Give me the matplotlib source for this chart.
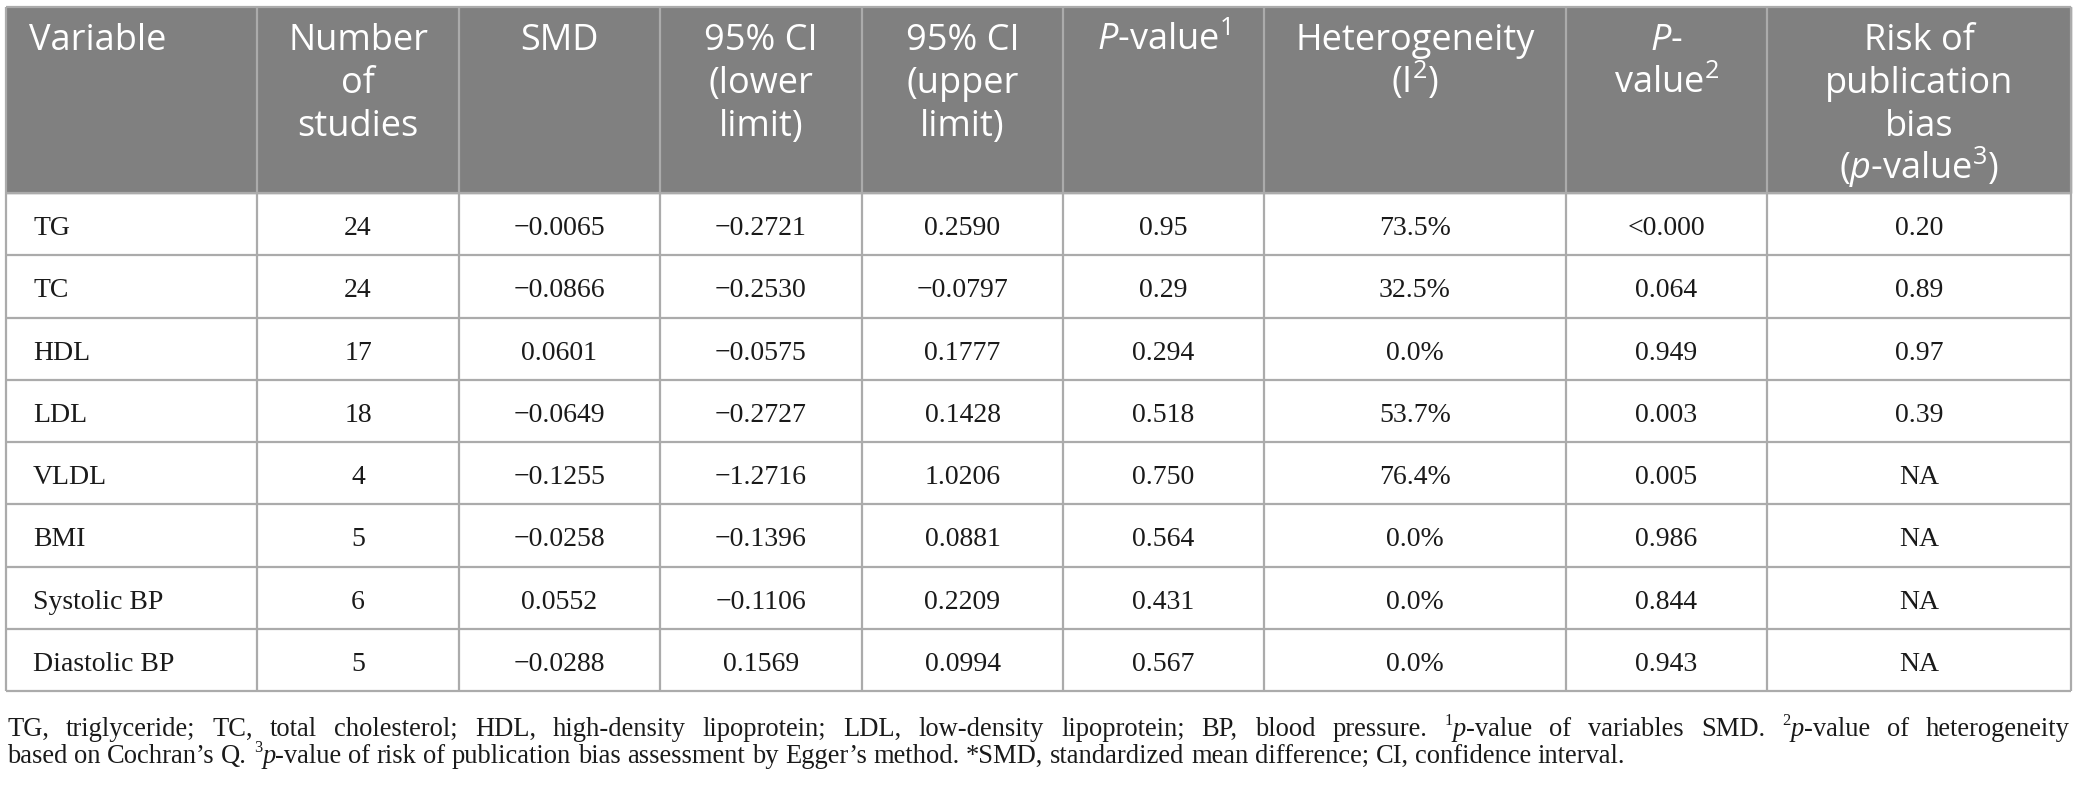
import re
import matplotlib
matplotlib.use("Agg")
import matplotlib.pyplot as plt
from matplotlib.patches import Rectangle

plt.rcParams["mathtext.fontset"] = "custom"
plt.rcParams["mathtext.rm"] = "Open Sans"
plt.rcParams["mathtext.cal"] = "Open Sans:italic"
plt.rcParams["mathtext.sf"] = "Open Sans"

# table data
variables = ["TG", "TC", "HDL", "LDL", "VLDL", "BMI", "Systolic BP", "Diastolic BP"]
n_studies = [24, 24, 17, 18, 4, 5, 6, 5]
smd = [-0.0065, -0.0866, 0.0601, -0.0649, -0.1255, -0.0258, 0.0552, -0.0288]
ci_lower = [-0.2721, -0.2530, -0.0575, -0.2727, -1.2716, -0.1396, -0.1106, 0.1569]
ci_upper = [0.2590, -0.0797, 0.1777, 0.1428, 1.0206, 0.0881, 0.2209, 0.0994]
p_smd = ["0.95", "0.29", "0.294", "0.518", "0.750", "0.564", "0.431", "0.567"]
i2 = [73.5, 32.5, 0.0, 53.7, 76.4, 0.0, 0.0, 0.0]
p_het = ["<0.000", "0.064", "0.949", "0.003", "0.005", "0.986", "0.844", "0.943"]
p_bias = ["0.20", "0.89", "0.97", "0.39", "NA", "NA", "NA", "NA"]

headers = [
    ["Variable"],
    ["Number", "of", "studies"],
    ["SMD"],
    ["95% CI", "(lower", "limit)"],
    ["95% CI", "(upper", "limit)"],
    [r"$\mathcal{P}$-value$^{\mathsf{1}}$"],
    ["Heterogeneity", r"(I$^{\mathsf{2}}$)"],
    [r"$\mathcal{P}$-", r"value$^{\mathsf{2}}$"],
    ["Risk of", "publication", "bias", r"($\mathcal{p}$-value$^{\mathsf{3}}$)"],
]

# {n} = superscript, [x] = italic
footnote_1 = ("TG, triglyceride; TC, total cholesterol; HDL, high-density lipoprotein; "
              "LDL, low-density lipoprotein; BP, blood pressure. "
              "{1}[p]-value of variables SMD. {2}[p]-value of heterogeneity")
footnote_2 = ("based on Cochran\u2019s Q. {3}[p]-value of risk of publication bias assessment by "
              "Egger\u2019s method. *SMD, standardized mean difference; CI, confidence interval.")


def fmt(v):
    return f"{v:.4f}".replace("-", "\u2212")


rows = []
for k in range(len(variables)):
    rows.append([variables[k], str(n_studies[k]), fmt(smd[k]), fmt(ci_lower[k]),
                 fmt(ci_upper[k]), p_smd[k], f"{i2[k]:.1f}%", p_het[k], p_bias[k]])

# layout (pixels)
W, H = 2076, 785
col_edges = [6, 257, 459, 660, 862, 1063, 1264, 1566, 1767, 2071]
top, head_bottom, table_bottom = 7, 193, 691
row_h = (table_bottom - head_bottom) / len(rows)
grid_color = "#ababab"
head_color = "#808080"
text_color = "#1a1a1a"
serif = "Liberation Serif"

fig = plt.figure(figsize=(W / 100, H / 100), dpi=100)
ax = fig.add_axes([0, 0, 1, 1])
ax.set_xlim(0, W)
ax.set_ylim(H, 0)
ax.axis("off")
renderer = fig.canvas.get_renderer()

ax.add_patch(Rectangle((col_edges[0], top), col_edges[-1] - col_edges[0],
                       head_bottom - top, color=head_color, zorder=1))

# grid lines
ys = [top, head_bottom] + [head_bottom + row_h * (i + 1) for i in range(len(rows))]
ax.hlines(ys, col_edges[0], col_edges[-1], color=grid_color, lw=1.6, zorder=2)
ax.vlines(col_edges, top, table_bottom, color=grid_color, lw=1.6, zorder=2)

# header
for j, lines in enumerate(headers):
    for i, line in enumerate(lines):
        y = 50 + 43 * i
        if j == 0:
            ax.text(col_edges[0] + 23, y, line, color="white", fontsize=26,
                    family="Open Sans", ha="left", va="baseline", zorder=3)
        else:
            xc = (col_edges[j] + col_edges[j + 1]) / 2
            ax.text(xc, y, line, color="white", fontsize=26,
                    family="Open Sans", ha="center", va="baseline", zorder=3)

# body
for i, row in enumerate(rows):
    yb = head_bottom + row_h * (i + 0.5) + 11
    for j, val in enumerate(row):
        if j == 0:
            ax.text(col_edges[0] + 27, yb, val, color=text_color, fontsize=20,
                    family=serif, ha="left", va="baseline", zorder=3)
        else:
            xc = (col_edges[j] + col_edges[j + 1]) / 2
            ax.text(xc, yb, val, color=text_color, fontsize=20,
                    family=serif, ha="center", va="baseline", zorder=3)


# footnote, drawn word by word
def make_word(word, y, size):
    pieces = []
    x = 0.0
    for m in re.finditer(r"\{(\d)\}|\[(\w)\]|([^{\[]+)", word):
        if m.group(1):
            t = ax.text(0, y - size * 100 / 72 * 0.4, m.group(1), fontsize=size * 0.62,
                        family=serif, color=text_color, ha="left", va="baseline")
        elif m.group(2):
            t = ax.text(0, y, m.group(2), fontsize=size, style="italic",
                        family=serif, color=text_color, ha="left", va="baseline")
        else:
            t = ax.text(0, y, m.group(3), fontsize=size,
                        family=serif, color=text_color, ha="left", va="baseline")
        pieces.append((t, x))
        x += t.get_window_extent(renderer).width
    return pieces, x


def draw_line(text, y, size, left, right=None):
    words = [make_word(w, y, size) for w in text.split(" ")]
    total = sum(w for _, w in words)
    if right is None:
        a = ax.text(0, 0, "n n", fontsize=size, family=serif)
        b = ax.text(0, 0, "nn", fontsize=size, family=serif)
        gap = a.get_window_extent(renderer).width - b.get_window_extent(renderer).width
        a.remove()
        b.remove()
    else:
        gap = (right - left - total) / (len(words) - 1)
    x = left
    for pieces, w in words:
        for t, dx in pieces:
            t.set_x(x + dx)
        x += w + gap


fn_size = 19.1
draw_line(footnote_1, 736, fn_size, 7, 2070)
draw_line(footnote_2, 763, fn_size, 7)

fig.savefig("out.png", dpi=100)
